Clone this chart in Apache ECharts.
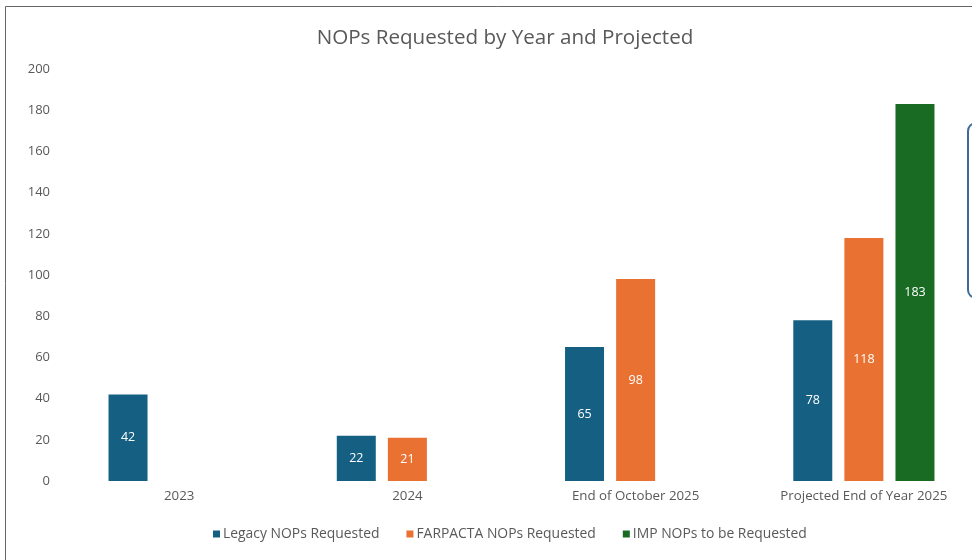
<!DOCTYPE html>
<html><head><meta charset="utf-8">
<script src="https://cdn.jsdelivr.net/npm/echarts@6/dist/echarts.min.js"></script>
<style>html,body{margin:0;padding:0;background:#fff;overflow:hidden;width:972px;height:560px}#c{width:990px;height:560px}</style>
</head><body><div id="c"></div>
<script>
const categories = ['2023', '2024', 'End of October 2025', 'Projected End of Year 2025'];
const legacy = [42, 22, 65, 78];
const farpacta = [null, 21, 98, 118];
const imp = [null, null, null, 183];
const seriesNames = ['Legacy NOPs Requested', 'FARPACTA NOPs Requested', 'IMP NOPs to be Requested'];
const colors = ['#156082', '#E97132', '#196B24'];
const yTicks = {min: 0, max: 200, interval: 20};
const titleText = 'NOPs Requested by Year and Projected';

const font = '"Open Sans", Roboto, sans-serif';
const chart = echarts.init(document.getElementById('c'));
const lbl = {show: true, position: 'inside', color: '#fff', fontSize: 12.5, fontFamily: font};
function mk(i, data) {
  return {name: seriesNames[i], type: 'bar', data: data, barWidth: 39, barGap: '31%',
    itemStyle: {color: colors[i]}, label: lbl};
}
chart.setOption({
  animation: false,
  grid: {left: 65, top: 69, width: 913, height: 412},
  xAxis: {type: 'category', data: categories, axisLine: {show: false}, axisTick: {show: false},
    axisLabel: {color: '#595959', fontSize: 13.3, margin: 9, fontFamily: font}},
  yAxis: {type: 'value', min: yTicks.min, max: yTicks.max, interval: yTicks.interval,
    splitLine: {show: false}, axisLine: {show: false}, axisTick: {show: false},
    axisLabel: {color: '#595959', fontSize: 13, margin: 15, fontFamily: font}},
  legend: {top: 522, left: 208, itemWidth: 7, itemHeight: 7, itemGap: 27, icon: 'rect',
    textStyle: {color: '#595959', fontSize: 13.9, fontFamily: font, padding: [0, 0, 0, -2]}, data: seriesNames},
  series: [mk(0, legacy), mk(1, farpacta), mk(2, imp)],
  graphic: [
    {type: 'text', x: 505, y: 38, z: 10,
      style: {text: titleText, fill: '#595959', fontSize: 20.6, fontFamily: font,
        align: 'center', verticalAlign: 'middle'}},
    {type: 'polyline', shape: {points: [[5.5, 560], [5.5, 6.5], [990, 6.5]]},
      style: {stroke: '#666', lineWidth: 1, fill: null}, z: 10},
    {type: 'rect', shape: {x: 968, y: 123, width: 30, height: 175, r: 8},
      style: {stroke: '#3f6b9b', lineWidth: 2, fill: '#fff'}, z: 10}
  ]
});
</script></body></html>
